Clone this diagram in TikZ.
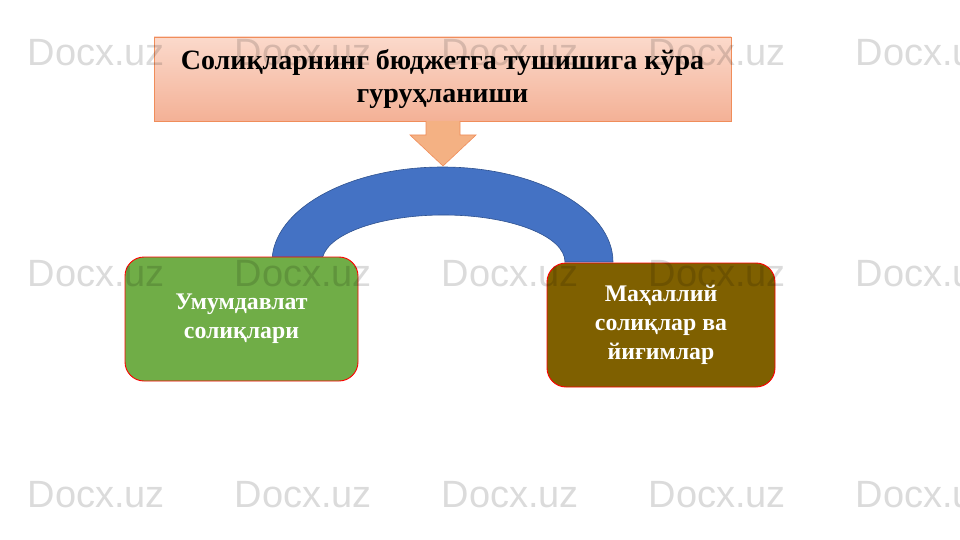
\documentclass[tikz,border=0pt]{standalone}
\usepackage{fontspec}
\setmainfont{Liberation Serif}
\newfontfamily\wmfont{Liberation Sans}
\definecolor{titletop}{HTML}{FBD9CB}
\definecolor{titlebot}{HTML}{F4B196}
\definecolor{titleedge}{HTML}{F08D5A}
\definecolor{arrowfill}{HTML}{F4B183}
\definecolor{arcblue}{HTML}{4472C4}
\definecolor{arcedge}{HTML}{2F528F}
\definecolor{boxgreen}{HTML}{70AD47}
\definecolor{boxbrown}{HTML}{7F6000}
\tikzset{
  titlebox/.style={draw=titleedge, line width=0.6pt, top color=titletop, bottom color=titlebot,
    minimum width=577pt, minimum height=84pt, inner sep=0pt, align=center,
    font=\fontsize{28pt}{33pt}\selectfont\bfseries, text=black},
  leafbox/.style={draw=red, line width=0.9pt, rounded corners=19pt, inner sep=0pt, align=center,
    font=\fontsize{23.8pt}{28.8pt}\selectfont\bfseries, text=white},
  wm/.style={font=\wmfont\fontsize{38pt}{38pt}\selectfont, text=black, text opacity=0.14,
    anchor=base west, inner sep=0pt}
}
\begin{document}
\begin{tikzpicture}[x=1pt,y=-1pt]
\useasboundingbox (0,0) rectangle (960,540);
% blue block arc
\path[fill=arcblue, draw=arcedge, line width=0.6pt]
  (272,262) arc[start angle=180, end angle=360, x radius=170.5, y radius=95]
  -- (565,262) arc[start angle=0, end angle=-180, x radius=121.5, y radius=47] -- cycle;
% title
\node[titlebox] (title) at (442.5,79) {Солиқларнинг бюджетга тушишига кўра\\гуруҳланиши};
% down arrow
\coordinate (tip) at (443,166);
\path[fill=arrowfill, draw=titleedge, line width=0.6pt]
  (426,121) -- (426,135) -- (410,135) -- (tip) -- (476,135) -- (460,135) -- (460,121);
% leaves
\node[leafbox, fill=boxgreen, minimum width=233pt, minimum height=124pt] (left) at (241.5,319)
  {Умумдавлат\\солиқлари};
\node[leafbox, fill=boxbrown, minimum width=228pt, minimum height=124pt] (right) at (661,325)
  {Маҳаллий\\солиқлар ва\\йиғимлар};
% watermarks
\foreach \yy [count=\r] in {66,286,507} {
  \foreach \xx [count=\c] in {27.5,234.5,441.5,648.5,855.5} {
    \node[wm] (wm\r\c) at (\xx,\yy) {Docx.uz};
  }
}
\end{tikzpicture}
\end{document}
